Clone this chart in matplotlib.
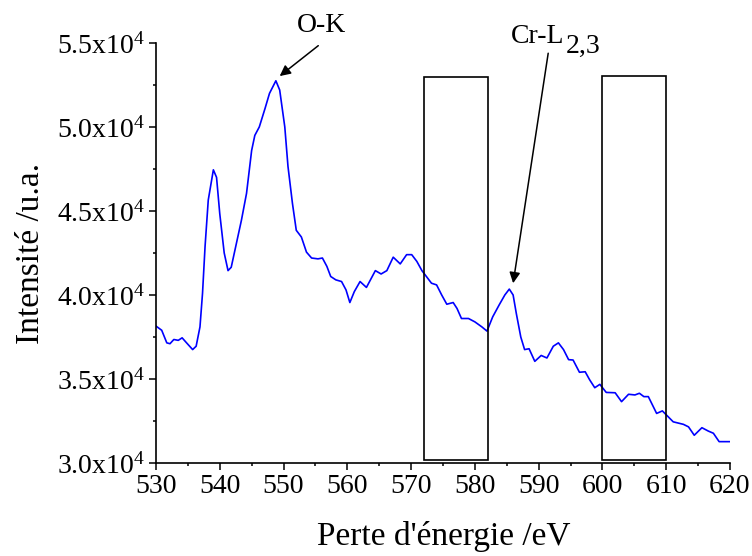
import numpy as np
import matplotlib
matplotlib.use("Agg")
import matplotlib.pyplot as plt
from matplotlib.patches import Rectangle
from matplotlib.ticker import MultipleLocator, FuncFormatter

# EELS spectrum (energy loss in eV, intensity in a.u.)
energy = [530.0, 530.9, 531.7, 532.2, 532.8, 533.5, 534.1, 534.8, 535.75, 536.3,
          536.9, 537.3, 537.7, 538.2, 539.0, 539.5, 540.0, 540.7, 541.3, 541.8,
          542.6, 543.4, 544.2, 545.0, 545.5, 546.2, 547.1, 547.8, 548.8, 549.4,
          550.2, 550.7, 551.4, 552.0, 552.8, 553.6, 554.4, 555.4, 556.1, 556.8,
          557.4, 558.2, 559.1, 559.8, 560.4, 561.1, 562.0, 563.0, 564.4, 565.3,
          566.2, 567.2, 568.3, 569.3, 570.1, 570.9, 571.7, 572.4, 573.2, 574.0,
          574.8, 575.6, 576.6, 577.2, 577.9, 579.0, 580.0, 581.1, 581.9, 582.8,
          583.8, 584.7, 585.4, 586.0, 586.5, 587.2, 587.8, 588.5, 589.4, 590.4,
          591.3, 592.3, 593.1, 593.9, 594.7, 595.4, 596.4, 597.3, 598.0, 598.8,
          599.6, 600.6, 602.0, 603.0, 604.1, 605.1, 605.8, 606.5, 607.2, 608.5,
          609.4, 611.1, 612.7, 613.5, 614.4, 615.6, 616.6, 617.4, 618.3, 619.5,
          620.0]
intensity = [38150, 37900, 37150, 37100, 37350, 37300, 37450, 37150, 36750, 36950,
             38100, 40100, 42900, 45650, 47450, 47000, 44850, 42500, 41450, 41650,
             43050, 44450, 46050, 48600, 49500, 50000, 51100, 52000, 52750, 52200,
             50000, 47650, 45450, 43850, 43450, 42550, 42200, 42150, 42200, 41700,
             41100, 40900, 40800, 40300, 39550, 40200, 40800, 40450, 41450, 41250,
             41450, 42250, 41850, 42400, 42400, 42000, 41450, 41100, 40700, 40600,
             40000, 39450, 39550, 39200, 38600, 38600, 38400, 38100, 37850, 38700,
             39400, 40000, 40350, 40000, 38900, 37500, 36750, 36800, 36050, 36400,
             36250, 36950, 37150, 36750, 36150, 36130, 35400, 35430, 34950, 34480,
             34680, 34200, 34180, 33650, 34090, 34050, 34150, 33950, 33950, 32950,
             33100, 32450, 32300, 32150, 31650, 32100, 31900, 31770, 31270, 31270,
             31270]

# integration windows
box_left = [572, 600]
box_right = [582, 610]
box_bottom = [30150, 30150]
box_top = [52950, 53030]

# edge labels: text position, arrow tail, arrow head
ok_text = (556.0, 55670)
ok_tail = (555.45, 54840)
ok_head = (549.4, 53030)
cr_text = (594.1, 55020)
cr_sub = (594.3, 54390)
cr_tail = (591.5, 54390)
cr_head = (586.0, 40700)

plt.rcParams["font.family"] = ["Liberation Serif", "DejaVu Serif"]
plt.rcParams["mathtext.fontset"] = "custom"
plt.rcParams["mathtext.rm"] = "Liberation Serif"
plt.rcParams["mathtext.default"] = "regular"

fig = plt.figure(figsize=(7.52, 5.56), dpi=100)
ax = fig.add_axes([0.2074, 0.1673, 0.7633, 0.7554])

ax.plot(energy, intensity, color="#0000ff", lw=1.2)

for x0, x1, y0, y1 in zip(box_left, box_right, box_bottom, box_top):
    ax.add_patch(Rectangle((x0, y0), x1 - x0, y1 - y0, fill=False,
                           ec="black", lw=1.2, zorder=3))

arrow = dict(arrowstyle="-|>", color="black", lw=1.1, mutation_scale=16,
             shrinkA=0, shrinkB=0)
ax.annotate("", xy=ok_head, xytext=ok_tail, arrowprops=arrow, annotation_clip=False)
ax.annotate("", xy=cr_head, xytext=cr_tail, arrowprops=arrow, annotation_clip=False)
ax.text(*ok_text, "O-K", fontsize=20, ha="center", va="baseline", clip_on=False)
ax.text(*cr_text, "Cr-L", fontsize=20, ha="right", va="baseline", clip_on=False)
ax.text(*cr_sub, "2,3", fontsize=20, ha="left", va="baseline", clip_on=False)

ax.set_xlim(530, 620)
ax.set_ylim(30000, 55000)
ax.xaxis.set_major_locator(MultipleLocator(10))
ax.xaxis.set_minor_locator(MultipleLocator(5))
ax.yaxis.set_major_locator(MultipleLocator(5000))
ax.yaxis.set_minor_locator(MultipleLocator(2500))


def sci_label(v, pos):
    return r"$%.1fx10^{4}$" % (v / 1e4)


ax.yaxis.set_major_formatter(FuncFormatter(sci_label))

for side in ["top", "right"]:
    ax.spines[side].set_visible(False)
for side in ["left", "bottom"]:
    ax.spines[side].set_linewidth(1.2)

ax.tick_params(which="major", direction="out", length=5, width=1.1,
               labelsize=20, pad=3)
ax.tick_params(which="minor", direction="out", length=2.5, width=1.1)

ax.set_xlabel("Perte d'énergie /eV", fontsize=24)
ax.set_ylabel("Intensité /u.a.", fontsize=24)
ax.xaxis.set_label_coords(0.502, -0.137)
ax.yaxis.set_label_coords(-0.192, 0.5)

fig.savefig("out.png", dpi=100)
